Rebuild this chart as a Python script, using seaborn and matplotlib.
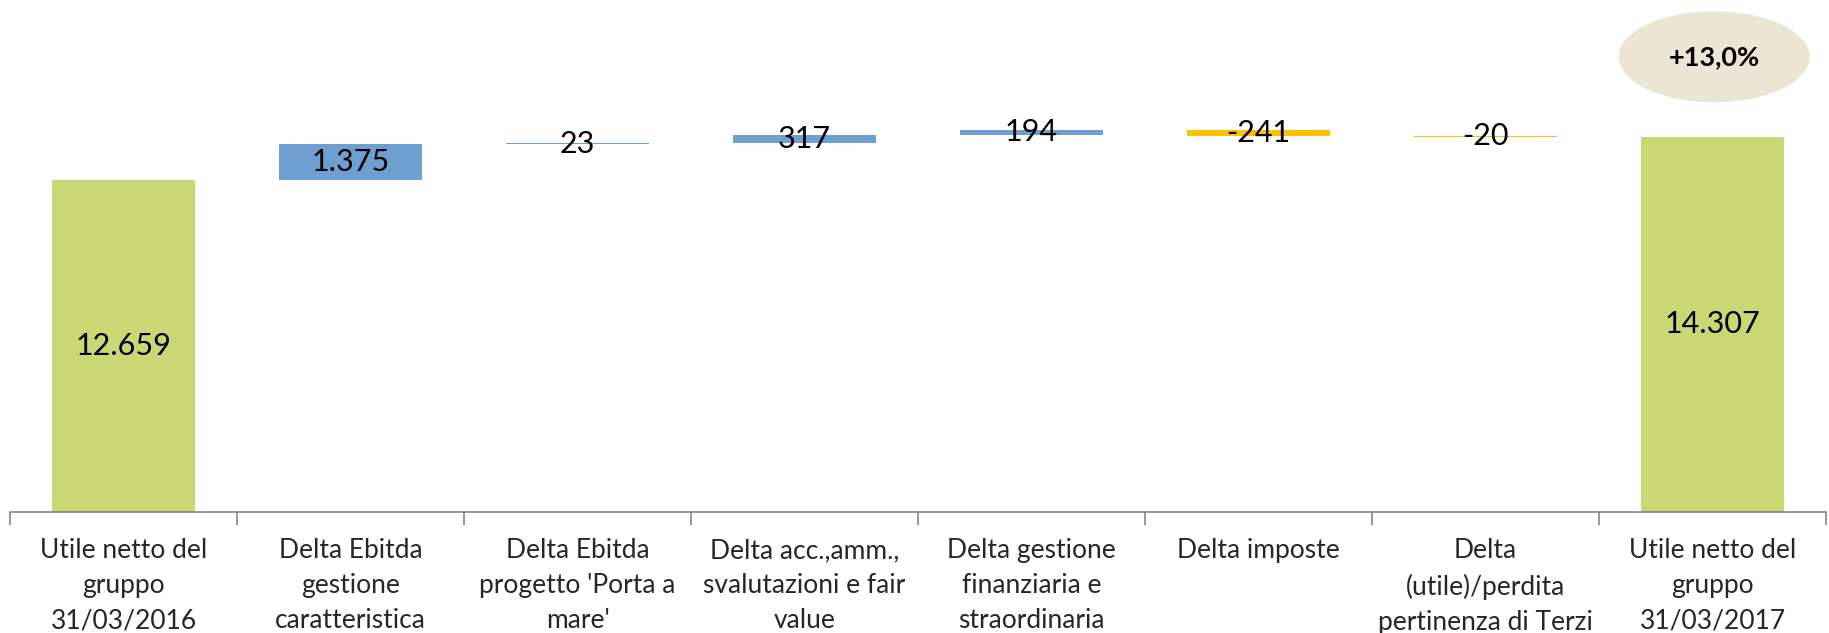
import numpy as np
import pandas as pd
import matplotlib
matplotlib.use('Agg')
import matplotlib.pyplot as plt
from matplotlib.patches import Ellipse
import seaborn as sns

# ---- data ----
categories = [
    "Utile netto del\ngruppo\n31/03/2016",
    "Delta Ebitda\ngestione\ncaratteristica",
    "Delta Ebitda\nprogetto 'Porta a\nmare'",
    "Delta acc.,amm.,\nsvalutazioni e fair\nvalue",
    "Delta gestione\nfinanziaria e\nstraordinaria",
    "Delta imposte",
    "Delta\n(utile)/perdita\npertinenza di Terzi",
    "Utile netto del\ngruppo\n31/03/2017",
]
values = [12659, 1375, 23, 317, 194, -241, -20, 14307]
value_labels = ["12.659", "1.375", "23", "317", "194", "-241", "-20", "14.307"]
is_total = [True, False, False, False, False, False, False, True]
growth_label = "+13,0%"

GREEN = '#C9D874'
BLUE = '#6E9FD0'
YELLOW = '#FFC000'

# waterfall geometry
bottoms, heights, colors = [], [], []
running = 0
for v, tot in zip(values, is_total):
    if tot:
        bottoms.append(0)
        heights.append(v)
        colors.append(GREEN)
        running = v
    else:
        lo = running if v >= 0 else running + v
        bottoms.append(lo)
        heights.append(abs(v))
        colors.append(BLUE if v >= 0 else YELLOW)
        running += v

df = pd.DataFrame({'cat': categories, 'height': heights, 'bottom': bottoms})

sns.set_style('white')
plt.rcParams['font.family'] = ['Lato', 'DejaVu Sans']

fig = plt.figure(figsize=(18.29, 6.33), dpi=100)
ax = fig.add_axes([10 / 1829, 121 / 633, 1816 / 1829, 512 / 633])

sns.barplot(data=df, x='cat', y='height', order=categories, bottom=df['bottom'].values,
            width=0.63, color=BLUE, saturation=1, ax=ax)
for patch, c in zip(ax.patches, colors):
    patch.set_facecolor(c)
    patch.set_edgecolor('none')

ax.set_xlim(-0.5, len(categories) - 0.5)
ax.set_ylim(0, 19520)

# value labels, centred on each bar
for i, (b, h, lab) in enumerate(zip(bottoms, heights, value_labels)):
    ax.text(i, b + h / 2, lab, ha='center', va='center', fontsize=22, color='black')

# growth bubble
ell = Ellipse((0.9384, 0.889), 191 / 1816, 91 / 512, transform=ax.transAxes,
              facecolor='#ECE5D3', edgecolor='none', clip_on=False)
ax.add_patch(ell)
ax.text(0.9384, 0.889, growth_label, transform=ax.transAxes, ha='center', va='center',
        fontsize=19.5, fontweight='bold', color='black')

# axes styling
for s in ['top', 'right', 'left']:
    ax.spines[s].set_visible(False)
ax.spines['bottom'].set_color('#868686')
ax.spines['bottom'].set_linewidth(1.2)
ax.set_yticks([])
ax.set_xlabel('')
ax.set_ylabel('')
ax.set_xticks(range(len(categories)))
ax.set_xticklabels(categories, fontsize=19, linespacing=1.5, va='top')
ax.tick_params(axis='x', which='major', length=0, pad=19)
ax.set_xticks(np.arange(-0.5, len(categories)), minor=True)
ax.tick_params(axis='x', which='minor', bottom=True, length=9, width=1.2,
               color='#868686', direction='out')

fig.savefig('out.png', dpi=100)
